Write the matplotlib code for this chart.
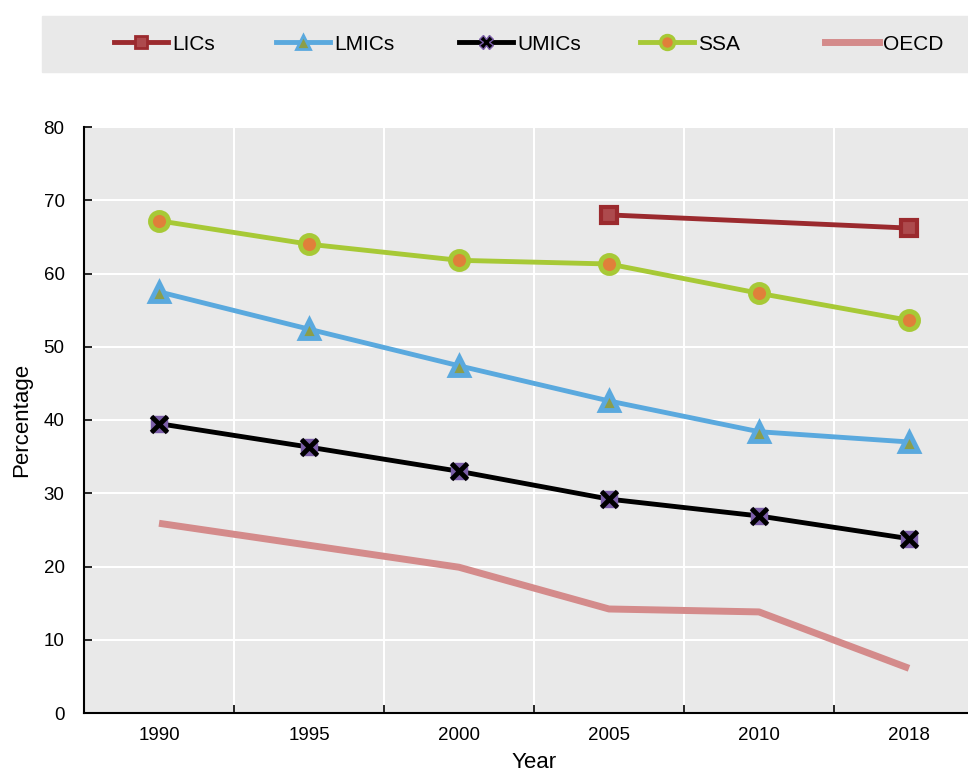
import matplotlib
matplotlib.use("Agg")
import matplotlib.pyplot as plt
from matplotlib.lines import Line2D
from matplotlib.patches import Rectangle

years = ["1990", "1995", "2000", "2005", "2010", "2018"]
lics = [None, None, None, 68.0, None, 66.2]
lmics = [57.5, 52.4, 47.4, 42.6, 38.4, 37.0]
umics = [39.5, 36.3, 33.0, 29.2, 26.9, 23.8]
ssa = [67.2, 64.0, 61.8, 61.3, 57.3, 53.6]
oecd = [25.9, 22.9, 19.9, 14.2, 13.8, 6.1]

bg = "#e9e9e9"
plt.rcParams["font.family"] = ["Liberation Sans", "DejaVu Sans"]
narrow = ["Liberation Sans Narrow", "Liberation Sans"]

fig = plt.figure(figsize=(9.68, 7.76), dpi=100)
ax = fig.add_axes([84 / 968, 1 - 713 / 776, 900 / 968, (713 - 127) / 776])
ax.set_facecolor(bg)

x = list(range(len(years)))

# LICs only has 2005 and 2018
lx = [i for i, v in enumerate(lics) if v is not None]
ly = [v for v in lics if v is not None]
ax.plot(lx, ly, color="#9b2a2e", lw=3.5, marker="s", ms=12, mfc="#ad4a4d",
        mec="#9b2a2e", mew=3, zorder=4)
ax.plot(x, lmics, color="#5aa9de", lw=3.5, marker="^", ms=13, mfc="#8c9e4a",
        mec="#5aa9de", mew=3.5, zorder=4)
ax.plot(x, umics, color="black", lw=3.5, marker="s", ms=12, mfc="#7b5ea8",
        mec="#7b5ea8", mew=1, zorder=4)
ax.plot(x, umics, ls="none", marker="x", ms=11, mec="black", mew=3.5, zorder=5)
ax.plot(x, ssa, color="#a7c936", lw=3.5, marker="o", ms=13, mfc="#e0803a",
        mec="#a7c936", mew=3.5, zorder=4)
ax.plot(x, oecd, color="#d48b8b", lw=5, solid_capstyle="butt", zorder=3)

ax.set_xlim(-0.5, len(years) - 0.5)
ax.set_ylim(0, 80)
ax.set_yticks(range(0, 81, 10))
ax.set_xticks(x)
ax.set_xticklabels(years, fontsize=13.5, family=narrow)
ax.set_xticks([i + 0.5 for i in x[:-1]], minor=True)
ax.tick_params(axis="x", which="major", length=0, pad=10)
ax.tick_params(axis="x", which="minor", direction="in", length=6, width=1.2)
ax.tick_params(axis="y", direction="in", length=6, width=1.2, labelsize=13.5, pad=14)
ax.grid(True, axis="y", color="white", lw=1.5)
ax.grid(True, axis="x", which="minor", color="white", lw=1.5)
ax.set_axisbelow(True)
for s in ["top", "right"]:
    ax.spines[s].set_visible(False)
for s in ["left", "bottom"]:
    ax.spines[s].set_linewidth(1.5)

ax.set_xlabel("Year", fontsize=16, family=narrow, labelpad=6)
ax.set_ylabel("Percentage", fontsize=16, family=narrow, labelpad=8)

# legend band
fig.patches.append(Rectangle((42 / 968, 1 - 72 / 776), 1, 56 / 776,
                             transform=fig.transFigure, color=bg, zorder=0))

names = ["LICs", "LMICs", "UMICs", "SSA", "OECD"]
handles = [
    Line2D([], [], color="#9b2a2e", lw=3.5, marker="s", ms=9, mfc="#ad4a4d", mec="#9b2a2e", mew=2),
    Line2D([], [], color="#5aa9de", lw=3.5, marker="^", ms=10, mfc="#8c9e4a", mec="#5aa9de", mew=2),
    Line2D([], [], color="black", lw=3.5, marker="X", ms=10, mfc="black", mec="#7b5ea8", mew=1),
    Line2D([], [], color="#a7c936", lw=3.5, marker="o", ms=10, mfc="#e0803a", mec="#a7c936", mew=2.5),
    Line2D([], [], color="#d48b8b", lw=5),
]
starts = [114, 276, 459, 640, 825]
for h, n, sx in zip(handles, names, starts):
    fig.legend(handles=[h], labels=[n], loc="center left",
               bbox_to_anchor=(sx / 968, 1 - 44 / 776), frameon=False,
               handlelength=2.6, handletextpad=0.2, borderpad=0, borderaxespad=0,
               prop={"family": narrow, "size": 15})

fig.savefig("out.png", dpi=100)
